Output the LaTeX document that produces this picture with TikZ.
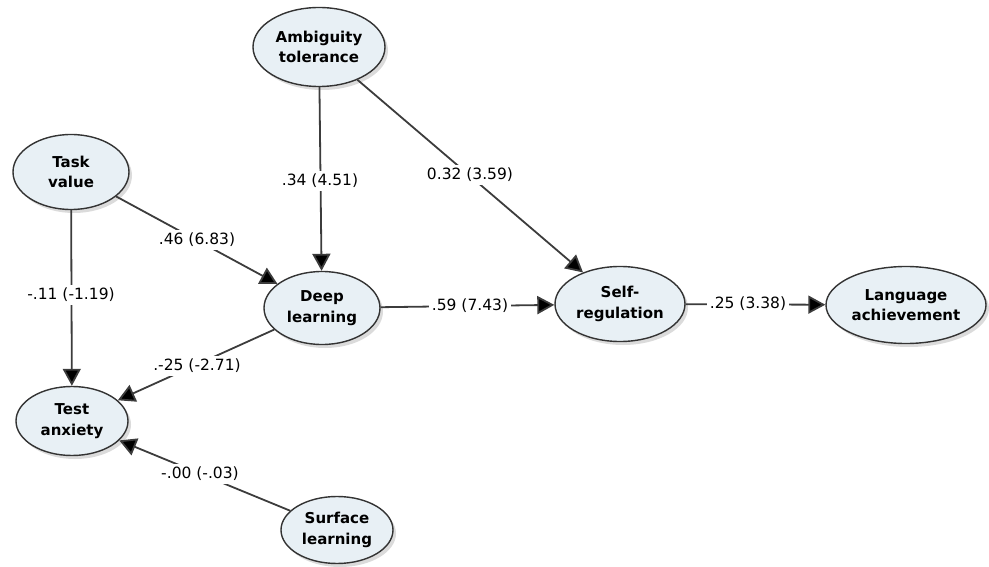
\documentclass[tikz,border=0pt]{standalone}
\usepackage{fontspec}
\setmainfont{DejaVu Sans}
\usetikzlibrary{shapes.geometric,arrows.meta,shadows}
\definecolor{nodefill}{RGB}{232,240,245}
\definecolor{edgecol}{RGB}{60,60,60}
\begin{document}
\begin{tikzpicture}[x=1pt,y=-1pt,
  latent/.style={ellipse, draw=black!80, line width=1.4pt, fill=nodefill,
    inner sep=0pt, align=center, font=\fontsize{15}{20.5}\selectfont\bfseries,
    drop shadow={shadow xshift=3pt, shadow yshift=-3.5pt, fill=black!28}},
  path/.style={draw=edgecol, line width=1.8pt, -{Triangle[length=17pt,width=18pt,fill=black]}},
  coef/.style={fill=white, inner sep=3pt, font=\fontsize{15.5}{18}\selectfont}]
\useasboundingbox (0,0) rectangle (989,567);
\node[latent, minimum width=132pt, minimum height=79pt] (amb) at (319,47) {Ambiguity\\tolerance};
\node[latent, minimum width=116pt, minimum height=75pt] (task) at (71,172) {Task\\value};
\node[latent, minimum width=116pt, minimum height=73pt] (deep) at (322,308) {Deep\\learning};
\node[latent, minimum width=130pt, minimum height=75pt] (self) at (620,304) {Self-\\regulation};
\node[latent, minimum width=160pt, minimum height=77pt] (lang) at (906,305) {Language\\achievement};
\node[latent, minimum width=112pt, minimum height=69pt] (test) at (72,421) {Test\\anxiety};
\node[latent, minimum width=112pt, minimum height=67pt] (surf) at (337,530) {Surface\\learning};

\draw[path] (amb) -- (deep);
\draw[path] (amb) -- (self);
\draw[path] (task) -- (deep);
\draw[path] (task) -- (test);
\draw[path] (deep) -- (self);
\draw[path] (self) -- (lang);
\draw[path] (deep) -- (test);
\draw[path] (surf) -- (test);

\node[coef] (l1) at (320,181) {.34 (4.51)};
\node[coef] (l2) at (470,175) {0.32 (3.59)};
\node[coef] (l3) at (197,240) {.46 (6.83)};
\node[coef] (l4) at (71,295) {-.11 (-1.19)};
\node[coef] (l5) at (470,306) {.59 (7.43)};
\node[coef] (l6) at (748,304) {.25 (3.38)};
\node[coef] (l7) at (197,366) {.-25 (-2.71)};
\node[coef] (l8) at (200,474) {-.00 (-.03)};
\end{tikzpicture}
\end{document}
